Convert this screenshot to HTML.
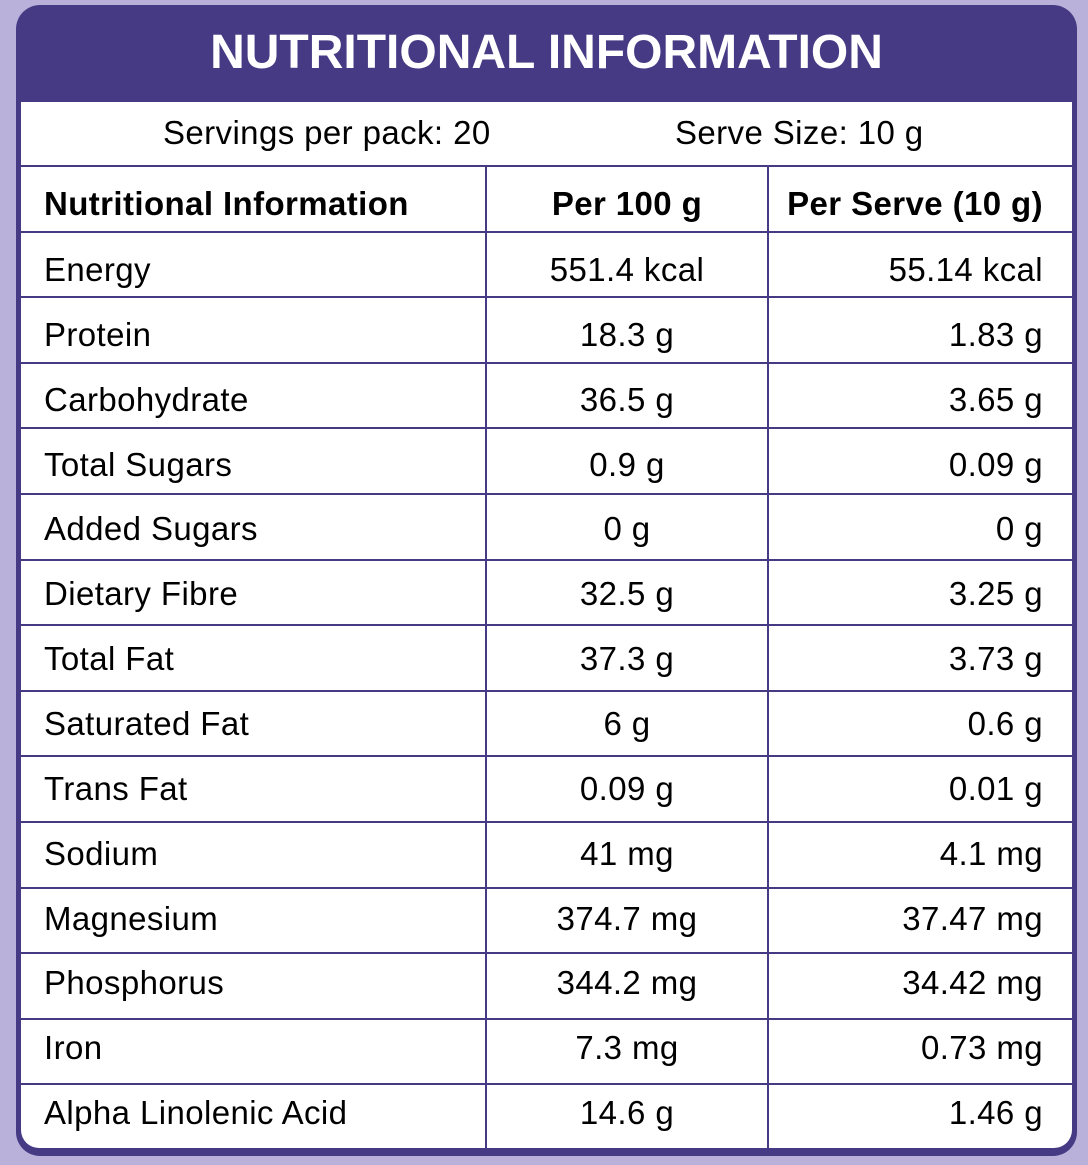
<!DOCTYPE html>
<html><head><style>
body{margin:0;width:1088px;height:1165px;background:#b9b1d9;font-family:"Liberation Sans",Arial,sans-serif;position:relative;overflow:hidden}
.box{position:absolute;left:16px;top:5px;width:1061px;height:1151px;background:#463a84;border-radius:24px}
.inner{position:absolute;left:21px;top:102px;width:1051px;height:1046px;background:#fff;border-radius:0 0 18px 18px}
.title{position:absolute;left:16px;width:1061px;top:24px;text-align:center;color:#fff;font-weight:bold;font-size:48px;line-height:58px}
.hl{position:absolute;left:21px;width:1051px;height:2px;background:#463a84}
.vl{position:absolute;width:2px;background:#463a84;top:166px;height:982px}
.t{position:absolute;font-size:33px;line-height:36px;color:#000;white-space:nowrap;letter-spacing:0.4px}
.b{font-weight:bold;letter-spacing:0.4px}
</style></head><body>
<div class="box"></div>
<div class="inner"></div>
<div class="title">NUTRITIONAL INFORMATION</div>
<div class="t" style="left:163px;top:115px">Servings per pack: 20</div>
<div class="t" style="left:675px;top:115px">Serve Size: 10 g</div>
<div class="hl" style="top:165px"></div>
<div class="vl" style="left:485px"></div>
<div class="vl" style="left:767px"></div>
<div id="rows"></div>
<script>
var rows=[["Nutritional Information","Per 100 g","Per Serve (10 g)"],["Energy","551.4 kcal","55.14 kcal"],["Protein","18.3 g","1.83 g"],["Carbohydrate","36.5 g","3.65 g"],["Total Sugars","0.9 g","0.09 g"],["Added Sugars","0 g","0 g"],["Dietary Fibre","32.5 g","3.25 g"],["Total Fat","37.3 g","3.73 g"],["Saturated Fat","6 g","0.6 g"],["Trans Fat","0.09 g","0.01 g"],["Sodium","41 mg","4.1 mg"],["Magnesium","374.7 mg","37.47 mg"],["Phosphorus","344.2 mg","34.42 mg"],["Iron","7.3 mg","0.73 mg"],["Alpha Linolenic Acid","14.6 g","1.46 g"]];
var h="";
for(var i=0;i<rows.length;i++){
 var y=166+i*65.6;var ty=i==0?186:252+(i-1)*64.85;var c=i==0?" b":"";
 if(i>0)h+='<div class="hl" style="top:'+(y-1)+'px"></div>';
 h+='<div class="t'+c+'" style="left:44px;top:'+ty+'px">'+rows[i][0]+'</div>';
 h+='<div class="t'+c+'" style="left:487px;width:280px;text-align:center;top:'+ty+'px">'+rows[i][1]+'</div>';
 h+='<div class="t'+c+'" style="right:45px;top:'+ty+'px">'+rows[i][2]+'</div>';
}
document.getElementById("rows").innerHTML=h;
</script>
</body></html>
